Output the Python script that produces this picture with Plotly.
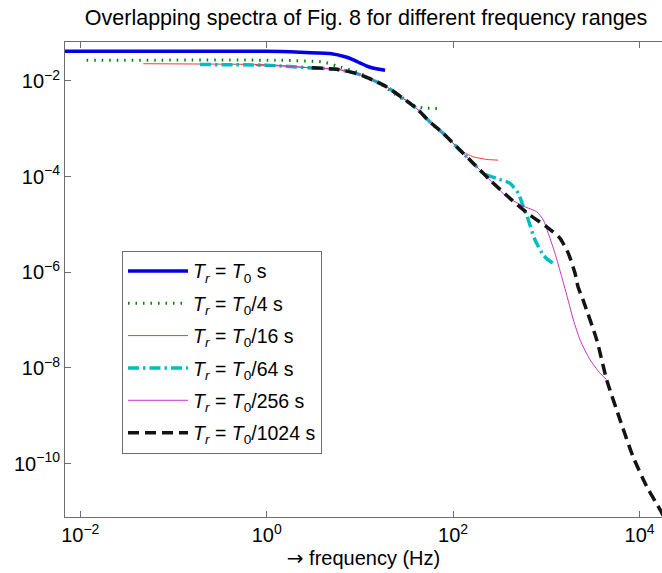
import plotly.graph_objects as go

# ---- data ----
f_T0 = [0.00288, 0.1, 1.0, 2.29, 4.79, 7.08, 8.51, 10.0, 11.7, 14.1, 18.6]
S_T0 = [0.0417, 0.0417, 0.0415, 0.0398, 0.0375, 0.0316, 0.0275, 0.0238, 0.0207, 0.0184, 0.0167]

f_T4 = [0.0117, 1.39, 4.02, 5.64, 9.25, 16.4, 24.8, 37.4, 47.5, 72.3]
S_T4 = [0.0270, 0.0270, 0.0249, 0.0206, 0.0154, 0.00883, 0.00502, 0.00311, 0.00273, 0.00265]

f_T16 = [0.0474, 1.0, 1.39, 3.14, 5.64, 9.25, 13.9, 19.4, 29.2, 40.6, 56.5, 78.5, 109, 119, 165, 230, 305]
S_T16 = [0.0229, 0.0219, 0.0211, 0.01866, 0.01754, 0.01426, 0.01035, 0.00750, 0.00430, 0.00265,
         0.00139, 7.98e-4, 4.19e-4, 3.57e-4, 2.59e-4, 2.29e-4, 2.21e-4]

f_T64 = [0.192, 1.0, 1.39, 3.14, 5.64, 9.25, 13.9, 19.4, 29.2, 40.6, 56.5, 78.5, 109, 165,
         211, 294, 408, 501, 566, 641, 757, 929, 1050, 1189]
S_T64 = [0.0220, 0.0214, 0.0206, 0.01866, 0.01754, 0.01426, 0.01035, 0.00750, 0.00430, 0.00265,
         0.00139, 7.98e-4, 4.19e-4, 1.89e-4,
         1.17e-4, 9.16e-5, 7.21e-5, 4.46e-5, 2.34e-5, 1.24e-5, 4.72e-6, 2.30e-6, 1.81e-6, 1.54e-6]

f_T256 = [0.759, 1.39, 3.14, 5.64, 9.25, 13.9, 19.4, 29.2, 40.6, 56.5, 78.5, 109, 165, 249,
          376, 566, 789, 929, 1050, 1239, 1462, 1710, 1950, 2301, 2944, 3767, 4446]
S_T256 = [0.0209, 0.0206, 0.01866, 0.01754, 0.01426, 0.01035, 0.00750, 0.00430, 0.00265,
          0.00139, 7.98e-4, 4.19e-4, 1.89e-4, 8.45e-5,
          3.78e-5, 2.42e-5, 1.84e-5, 1.24e-5, 6.52e-6, 2.49e-6, 8.09e-7, 2.64e-7, 1.01e-7,
          3.86e-8, 1.48e-8, 7.78e-9, 5.65e-9]

f_T1024 = [3.04, 5.64, 9.25, 13.9, 19.4, 29.2, 40.6, 56.5, 78.5, 109, 165, 249, 407, 668, 1009,
           1403, 1722, 2032, 2188, 2477, 3475, 4446, 6180, 8511, 11940, 16600, 19950]
S_T1024 = [0.0188, 0.01754, 0.01426, 0.01035, 0.00750, 0.00430, 0.00265, 0.00139, 7.98e-4,
           4.19e-4, 1.89e-4, 8.45e-5, 3.51e-5, 1.57e-5, 8.95e-6, 5.13e-6, 2.49e-6, 9.53e-7,
           5.00e-7, 2.64e-7, 3.86e-8, 5.65e-9, 8.24e-10, 1.41e-10, 3.34e-11, 1.09e-11, 5.6e-12]

names = [
    "<i>T</i><sub><i>r</i></sub> = <i>T</i><sub>0</sub> s",
    "<i>T</i><sub><i>r</i></sub> = <i>T</i><sub>0</sub>/4 s",
    "<i>T</i><sub><i>r</i></sub> = <i>T</i><sub>0</sub>/16 s",
    "<i>T</i><sub><i>r</i></sub> = <i>T</i><sub>0</sub>/64 s",
    "<i>T</i><sub><i>r</i></sub> = <i>T</i><sub>0</sub>/256 s",
    "<i>T</i><sub><i>r</i></sub> = <i>T</i><sub>0</sub>/1024 s",
]

x_tickvals = [1e-2, 1e0, 1e2, 1e4]
x_ticktext = ["10<sup>\u22122</sup>", "10<sup>0</sup>", "10<sup>2</sup>", "10<sup>4</sup>"]
y_tickvals = [1e-10, 1e-8, 1e-6, 1e-4, 1e-2]
y_ticktext = ["10<sup>\u221210</sup>", "10<sup>\u22128</sup>", "10<sup>\u22126</sup>",
              "10<sup>\u22124</sup>", "10<sup>\u22122</sup>"]

FONT = "Liberation Sans, Arial, Helvetica, sans-serif"

styles = [
    dict(color="rgb(0,0,230)", width=3.5),
    dict(color="rgb(0,128,0)", width=3, dash="1.5px,6px"),
    dict(color="rgb(240,60,60)", width=1),
    dict(color="rgb(0,190,190)", width=3.5, dash="11px,4px,2.5px,4px"),
    dict(color="rgb(200,50,200)", width=1),
    dict(color="rgb(20,20,20)", width=3.5, dash="11px,6px"),
]
series = [(f_T0, S_T0), (f_T4, S_T4), (f_T16, S_T16), (f_T64, S_T64),
          (f_T256, S_T256), (f_T1024, S_T1024)]

fig = go.Figure()
for i, ((fx, sy), name, st) in enumerate(zip(series, names, styles)):
    fig.add_trace(go.Scatter(x=fx, y=sy, mode="lines", name=name, legendgroup=f"g{i}",
                             line=dict(shape="spline", smoothing=0.6, **st)))

axis_common = dict(showline=True, linecolor="rgb(110,110,110)", linewidth=1,
                   ticks="inside", ticklen=6, tickcolor="rgb(110,110,110)",
                   showgrid=False, zeroline=False,
                   tickfont=dict(family=FONT, size=20, color="black"))

fig.update_xaxes(type="log", range=[-2.164, 4.241], tickvals=x_tickvals, ticktext=x_ticktext,
                 mirror="ticks",
                 title=dict(text="<span style='font-family:DejaVu Sans'>\u2192</span> frequency (Hz)",
                            font=dict(family=FONT, size=20, color="black"),
                            standoff=2),
                 **axis_common)
fig.update_yaxes(type="log", range=[-11.115, -1.186], tickvals=y_tickvals, ticktext=y_ticktext,
                 **axis_common)

fig.update_layout(
    width=662, height=573,
    margin=dict(l=65, r=0, t=42, b=56),
    paper_bgcolor="white", plot_bgcolor="white",
    title=dict(text="Overlapping spectra of Fig. 8 for different frequency ranges",
               font=dict(family=FONT, size=21.5, color="black"),
               x=0.553, xanchor="center", y=1 - 17 / 573, yanchor="middle", yref="container"),
    legend=dict(x=0.0955, y=0.5606, xanchor="left", yanchor="top",
                bgcolor="white", bordercolor="rgb(110,110,110)", borderwidth=1,
                font=dict(family=FONT, size=19.5, color="black"),
                itemwidth=60, tracegroupgap=4),
    showlegend=True,
)

fig.write_html("out.html")
